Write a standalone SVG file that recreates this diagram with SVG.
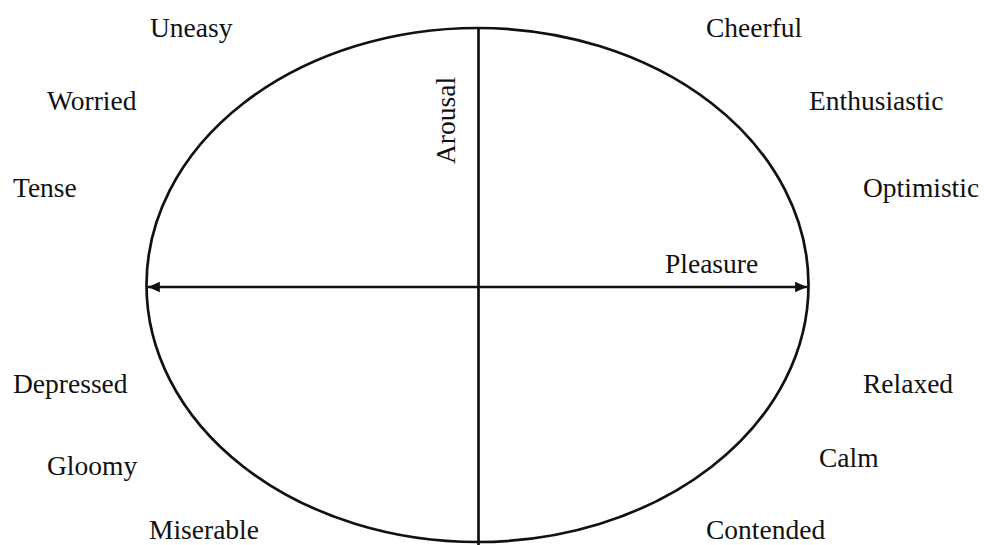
<svg xmlns="http://www.w3.org/2000/svg" width="984" height="545" viewBox="0 0 984 545">
<style>
.lbl{font-family:"Liberation Serif","Times New Roman",serif;font-size:27.5px;fill:#111}
.ln{stroke:#111;stroke-width:2.7;fill:none}
</style>
<defs>
<marker id="ah" viewBox="0 0 10 10" refX="10" refY="5" markerWidth="4.4" markerHeight="4.4" orient="auto-start-reverse" markerUnits="strokeWidth">
<path d="M0,0.5 L10,5 L0,9.5 Z" fill="#111"/>
</marker>
</defs>
<rect width="984" height="545" fill="#fff"/>
<g id="ellipse">
<ellipse class="ln" cx="477.5" cy="285" rx="331" ry="257"/>
</g>
<g id="connectors">
<line class="ln" x1="478.5" y1="28" x2="478.5" y2="545"/>
<line class="ln" x1="148" y1="287" x2="807" y2="287" marker-start="url(#ah)" marker-end="url(#ah)"/>
</g>
<g id="axis-labels">
<text class="lbl" x="665" y="273">Pleasure</text>
<text class="lbl" transform="translate(455,164) rotate(-90)">Arousal</text>
</g>
<g id="uneasy"><text class="lbl" x="150" y="37">Uneasy</text></g>
<g id="worried"><text class="lbl" x="47" y="110">Worried</text></g>
<g id="tense"><text class="lbl" x="13" y="197">Tense</text></g>
<g id="depressed"><text class="lbl" x="13" y="393">Depressed</text></g>
<g id="gloomy"><text class="lbl" x="47" y="475">Gloomy</text></g>
<g id="miserable"><text class="lbl" x="149" y="539">Miserable</text></g>
<g id="cheerful"><text class="lbl" x="706" y="37">Cheerful</text></g>
<g id="enthusiastic"><text class="lbl" x="809" y="110">Enthusiastic</text></g>
<g id="optimistic"><text class="lbl" x="863" y="197">Optimistic</text></g>
<g id="relaxed"><text class="lbl" x="863" y="393">Relaxed</text></g>
<g id="calm"><text class="lbl" x="819" y="467">Calm</text></g>
<g id="contended"><text class="lbl" x="706" y="539">Contended</text></g>
</svg>
